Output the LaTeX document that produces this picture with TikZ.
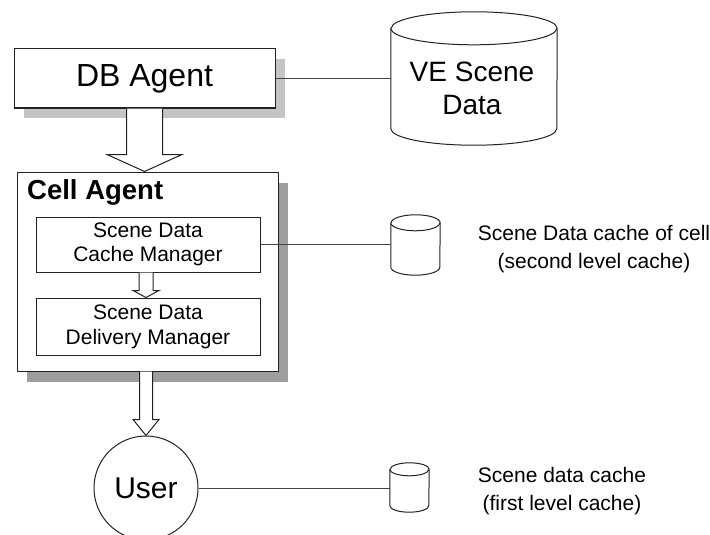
\documentclass[tikz,border=0pt]{standalone}
\usepackage{fontspec}
\setmainfont{Liberation Sans}
\usetikzlibrary{shadows,calc}
\definecolor{ink}{HTML}{222222}
\definecolor{wire}{HTML}{444444}
\definecolor{shadowlight}{HTML}{C4C4C4}
\definecolor{shadowdark}{HTML}{9E9E9E}
\newcommand{\fsz}[2]{\fontsize{#1}{#2}\selectfont}
% block arrow: #1 start anchor, #2 tip coordinate, #3 shaft half width, #4 head half width, #5 head length
\newcommand{\blockarrow}[5]{%
  \draw[blockarr] ([xshift=-#3]#1) -- ([xshift=-#3,yshift=#5]#2) -- ([xshift=-#4,yshift=#5]#2) -- (#2)
    -- ([xshift=#4,yshift=#5]#2) -- ([xshift=#3,yshift=#5]#2) -- ([xshift=#3]#1);}
% cylinder drawn around a named node: #1 node, #2 x radius, #3 y radius
\newcommand{\cylinderaround}[3]{%
  \draw[cyl] ([yshift=-#3]#1.north west) -- ([yshift=#3]#1.south west)
    arc[start angle=180,end angle=360,x radius=#2,y radius=#3]
    -- ([yshift=-#3]#1.north east)
    arc[start angle=0,end angle=180,x radius=#2,y radius=#3] -- cycle;
  \draw[cyl] ([yshift=-#3]#1.north west) arc[start angle=180,end angle=360,x radius=#2,y radius=#3];}
\begin{document}
\begin{tikzpicture}[x=1pt,y=-1pt,
  box/.style={draw=ink,line width=1pt,fill=white,rectangle,inner sep=0pt,align=center},
  dbbox/.style={box,general shadow={fill=shadowlight,shadow xshift=10pt,shadow yshift=-10pt}},
  cellbox/.style={box,general shadow={fill=shadowdark,shadow xshift=10pt,shadow yshift=-11pt}},
  blockarr/.style={draw=ink,line width=1pt,fill=white,line join=miter},
  cyl/.style={draw=ink,line width=1pt,fill=white},
  wireline/.style={draw=wire,line width=1pt},
  holder/.style={rectangle,inner sep=0pt,minimum width=#1},
  caption/.style={align=center,font=\fsz{21pt}{28pt}}]
\clip (0,0) rectangle (710,535);
\useasboundingbox (0,0) rectangle (710,535);

% DB agent
\node[dbbox,minimum width=261pt,minimum height=59pt,font=\fsz{32pt}{36pt}] (db) at (144.5,78.5) {DB Agent};

% Cell agent
\node[cellbox,minimum width=261pt,minimum height=199pt] (cell) at (147.5,271.5) {};
\node[anchor=west,inner sep=0pt,font=\fsz{27.5pt}{30pt}\bfseries] (celltitle) at (27,192) {Cell Agent};
\node[box,minimum width=224pt,minimum height=55pt,font=\fsz{21pt}{24pt}] (cm) at (148,244.5) {Scene Data\\Cache Manager};
\node[box,minimum width=224pt,minimum height=57pt,font=\fsz{21pt}{25pt}] (dm) at (148,326.5) {Scene Data\\Delivery Manager};

% User
\node[circle,draw=ink,line width=1pt,fill=white,minimum size=104pt,inner sep=0pt,font=\fsz{30pt}{34pt}] (user) at (146,488) {User};

% cylinders
\node[rectangle,inner sep=0pt,minimum width=166pt,minimum height=133pt] (ve) at (474,78.5) {};
\cylinderaround{ve}{83pt}{16.5pt}
\node[align=center,inner sep=0pt,font=\fsz{28pt}{33pt}] (vetext) at (472,88.5) {VE Scene\\Data};

\node[rectangle,inner sep=0pt,minimum width=49pt,minimum height=60pt] (c1) at (415.5,245) {};
\cylinderaround{c1}{24.5pt}{8pt}
\node[rectangle,inner sep=0pt,minimum width=39pt,minimum height=49pt] (c2) at (409.5,487.5) {};
\cylinderaround{c2}{19.5pt}{6.5pt}

% captions
\node[caption] (cap1) at (594,249) {Scene Data cache of cell\\(second level cache)};
\node[caption] (cap2) at (562,491) {Scene data cache\\(first level cache)};

% connectors
\draw[wireline] (db.east) -- (db.east -| ve.west);
\draw[wireline] (cm.east) -- (cm.east -| c1.west);
\draw[wireline] (user.east) -- (user.east -| c2.west);

% block arrows
\coordinate (t1) at (db.south |- cell.north);
\blockarrow{db.south}{t1}{18pt}{37.5pt}{17pt}
\coordinate (t2) at (cm.south |- dm.north);
\coordinate (s2) at ([xshift=-2pt]cm.south);
\coordinate (t2b) at ([xshift=-2pt]t2);
\blockarrow{s2}{t2b}{7pt}{13pt}{7pt}
\coordinate (s3) at (cell.south -| user.north);
\blockarrow{s3}{user.north}{6.5pt}{13pt}{16pt}
\end{tikzpicture}
\end{document}
